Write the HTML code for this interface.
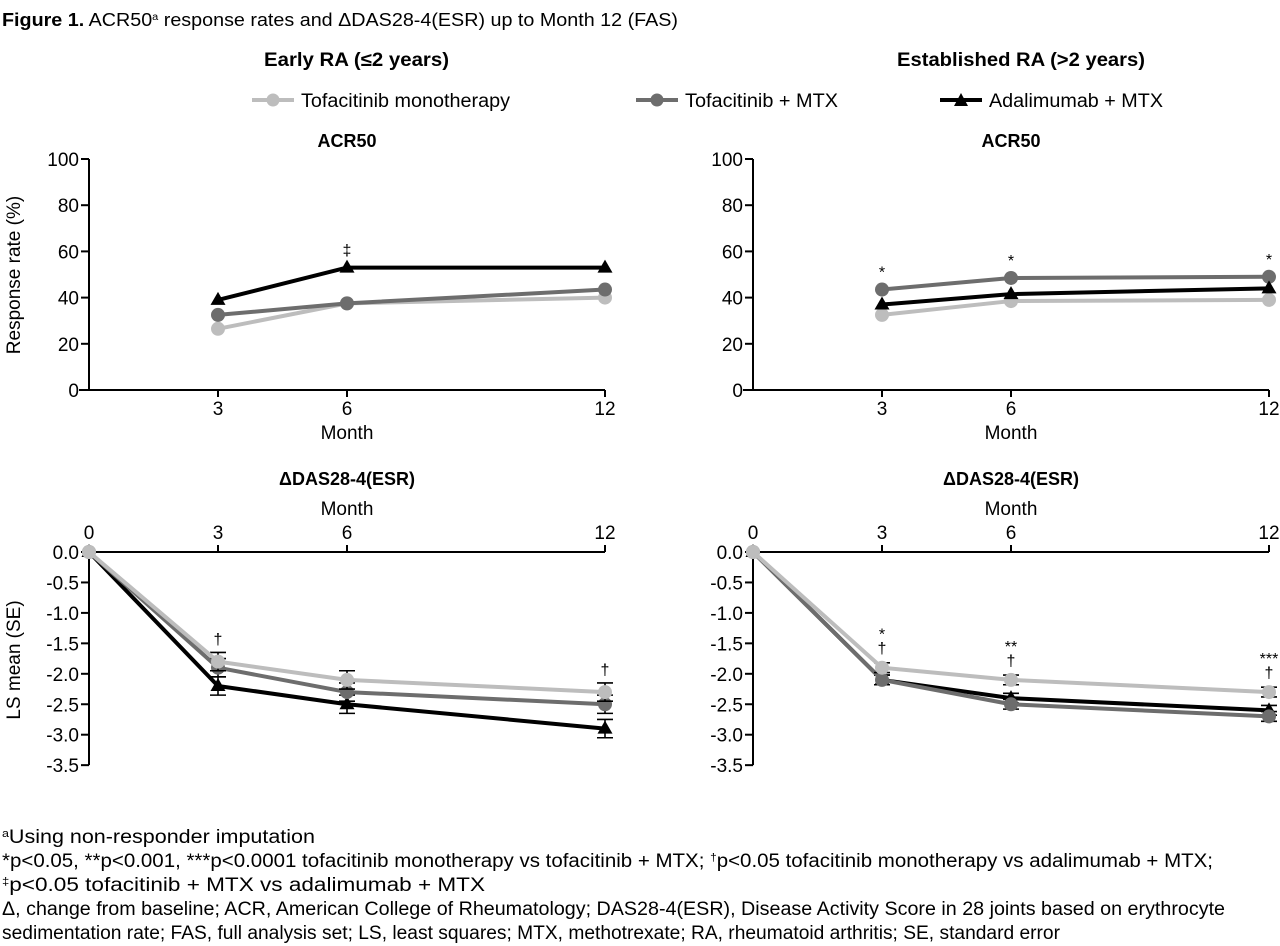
<!DOCTYPE html>
<html><head><meta charset="utf-8"><style>
html,body{margin:0;padding:0;background:#fff;}
svg{display:block;font-family:"Liberation Sans",Arial,sans-serif;}
</style></head><body>
<svg id="fig" width="1280" height="946" viewBox="0 0 1280 946" xmlns="http://www.w3.org/2000/svg">
<text x="2" y="26" font-size="18" textLength="676" lengthAdjust="spacingAndGlyphs"><tspan font-weight="bold">Figure 1.</tspan> ACR50<tspan font-size="10" dy="-6">a</tspan><tspan dy="6"> response rates and ΔDAS28-4(ESR) up to Month 12 (FAS)</tspan></text>
<text x="264" y="66" font-size="19" font-weight="bold" textLength="185" lengthAdjust="spacingAndGlyphs">Early RA (≤2 years)</text>
<text x="897" y="66" font-size="19" font-weight="bold" textLength="248" lengthAdjust="spacingAndGlyphs">Established RA (&gt;2 years)</text>
<g>
 <g><line x1="252" y1="100" x2="294" y2="100" stroke="#bdbdbd" stroke-width="4"/><circle cx="273" cy="100" r="6.5" fill="#bdbdbd"/><text x="301" y="107" font-size="19" textLength="209" lengthAdjust="spacingAndGlyphs">Tofacitinib monotherapy</text></g>
 <g><line x1="636" y1="100" x2="678" y2="100" stroke="#6d6d6d" stroke-width="4"/><circle cx="657" cy="100" r="6.5" fill="#6d6d6d"/><text x="685" y="107" font-size="19" textLength="153" lengthAdjust="spacingAndGlyphs">Tofacitinib + MTX</text></g>
 <g><line x1="940" y1="100" x2="982" y2="100" stroke="#000" stroke-width="4"/><polygon points="961,93 968,106 954,106" fill="#000"/><text x="989" y="107" font-size="19" textLength="174" lengthAdjust="spacingAndGlyphs">Adalimumab + MTX</text></g>
</g>
<g id="charts"></g>
<g font-size="19">
<text x="2" y="843" textLength="313" lengthAdjust="spacingAndGlyphs"><tspan font-size="11" dy="-6">a</tspan><tspan dy="6">Using non-responder imputation</tspan></text>
<text x="2" y="867" textLength="1211" lengthAdjust="spacingAndGlyphs">*p&lt;0.05, **p&lt;0.001, ***p&lt;0.0001 tofacitinib monotherapy vs tofacitinib + MTX; <tspan font-size="11" dy="-6">†</tspan><tspan dy="6">p&lt;0.05 tofacitinib monotherapy vs adalimumab + MTX;</tspan></text>
<text x="2" y="891" textLength="483" lengthAdjust="spacingAndGlyphs"><tspan font-size="11" dy="-6">‡</tspan><tspan dy="6">p&lt;0.05 tofacitinib + MTX vs adalimumab + MTX</tspan></text>
<text x="2" y="915" textLength="1223" lengthAdjust="spacingAndGlyphs">Δ, change from baseline; ACR, American College of Rheumatology; DAS28-4(ESR), Disease Activity Score in 28 joints based on erythrocyte</text>
<text x="2" y="939" textLength="1058" lengthAdjust="spacingAndGlyphs">sedimentation rate; FAS, full analysis set; LS, least squares; MTX, methotrexate; RA, rheumatoid arthritis; SE, standard error</text>
</g>
</svg>
<script>
// ACR50 data (%)
const acrMonths = [3, 6, 12];
const earlyAcrMono = [26.5, 37.5, 40];
const earlyAcrTofaMtx = [32.5, 37.5, 43.5];
const earlyAcrAda = [39, 53, 53];
const estAcrMono = [32.5, 38.5, 39];
const estAcrTofaMtx = [43.5, 48.5, 49];
const estAcrAda = [37, 41.5, 44];
const acrTicks = [0, 20, 40, 60, 80, 100];
// DAS28 data (LS mean change)
const dasMonths = [0, 3, 6, 12];
const earlyDasMono = [0, -1.8, -2.1, -2.3];
const earlyDasTofaMtx = [0, -1.9, -2.3, -2.5];
const earlyDasAda = [0, -2.2, -2.5, -2.9];
const earlyDasSE = [0, 0.15, 0.15, 0.15];
const estDasMono = [0, -1.9, -2.1, -2.3];
const estDasTofaMtx = [0, -2.1, -2.5, -2.7];
const estDasAda = [0, -2.1, -2.4, -2.6];
const estDasSE = [0, 0.08, 0.08, 0.08];
const dasTicks = [0, -0.5, -1, -1.5, -2, -2.5, -3, -3.5];

const NS = 'http://www.w3.org/2000/svg';
const root = document.getElementById('charts');
function mk(tag, attrs, parent, txt) {
  const e = document.createElementNS(NS, tag);
  for (const k in attrs) e.setAttribute(k, attrs[k]);
  if (txt !== undefined) e.textContent = txt;
  (parent || root).appendChild(e);
  return e;
}
const colors = {mono: '#bdbdbd', tm: '#6d6d6d', ada: '#000'};
const FS = 19;

function marker(g, x, y, type, col) {
  if (type === 'tri') {
    const p = mk('polygon', {points: `${x},${y-8} ${x+7.5},${y+5} ${x-7.5},${y+5}`, fill: col}, g);
    
    
  } else {
    const c = mk('circle', {cx: x, cy: y, r: 7, fill: col}, g);
    
    
  }
}
function series(g, name, months, vals, xs, ys, col, type, se) {
  const sg = mk('g', {}, g);
  
  
  if (se) {
    months.forEach((m, i) => {
      if (!se[i]) return;
      const x = xs(m), y1 = ys(vals[i] + se[i]), y2 = ys(vals[i] - se[i]);
      mk('path', {d: `M${x},${y1}V${y2}M${x-8},${y1}H${x+8}M${x-8},${y2}H${x+8}`, stroke: '#000', 'stroke-width': 1.6, fill: 'none'}, sg);
    });
  }
  const pts = months.map((m, i) => xs(m) + ',' + ys(vals[i])).join(' ');
  mk('polyline', {points: pts, fill: 'none', stroke: col, 'stroke-width': 4, 'stroke-linejoin': 'round'}, sg);
  months.forEach((m, i) => marker(sg, xs(m), ys(vals[i]), type, col));
}

function acrChart(name, x0, mono, tm, ada, notes) {
  const g = mk('g', {});
  
  
  const xs = m => x0 + m * 43;
  const ys = v => 390 - v * 2.31;
  const t = mk('text', {x: xs(6), y: 147, 'font-size': 18, 'font-weight': 'bold', 'text-anchor': 'middle'}, g, 'ACR50');
  
  
  mk('line', {x1: x0, y1: ys(100), x2: x0, y2: 390, stroke: '#000', 'stroke-width': 2}, g);
  mk('line', {x1: x0 - 10, y1: 390, x2: xs(12), y2: 390, stroke: '#000', 'stroke-width': 2}, g);
  acrTicks.forEach(v => {
    mk('line', {x1: x0 - 8, y1: ys(v), x2: x0, y2: ys(v), stroke: '#000', 'stroke-width': 2}, g);
    const l = mk('text', {x: x0 - 10, y: ys(v) + 7, 'font-size': FS, 'text-anchor': 'end'}, g, String(v));
    
    
  });
  acrMonths.forEach(m => {
    mk('line', {x1: xs(m), y1: 390, x2: xs(m), y2: 397, stroke: '#000', 'stroke-width': 2}, g);
    const l = mk('text', {x: xs(m), y: 415, 'font-size': FS, 'text-anchor': 'middle'}, g, String(m));
    
    
  });
  const xl = mk('text', {x: xs(6), y: 439, 'font-size': FS, 'text-anchor': 'middle'}, g, 'Month');
  
  
  series(g, 'series-tofa-mono', acrMonths, mono, xs, ys, colors.mono, 'c');
  series(g, 'series-tofa-mtx', acrMonths, tm, xs, ys, colors.tm, 'c');
  series(g, 'series-ada-mtx', acrMonths, ada, xs, ys, colors.ada, 'tri');
  notes.forEach(n => {
    const a = mk('text', {x: xs(n[0]), y: ys(n[1]) - 12, 'font-size': 16, 'text-anchor': 'middle'}, g, n[2]);
    
    
  });
}

function dasChart(name, x0, mono, tm, ada, se, notes) {
  const g = mk('g', {});
  
  
  const xs = m => x0 + m * 43;
  const ys = v => 552 - v * 60.9;
  const t = mk('text', {x: xs(6), y: 485, 'font-size': 18, 'font-weight': 'bold', 'text-anchor': 'middle'}, g, 'ΔDAS28-4(ESR)');
  
  
  const xl = mk('text', {x: xs(6), y: 515, 'font-size': FS, 'text-anchor': 'middle'}, g, 'Month');
  
  
  mk('line', {x1: x0, y1: 552, x2: x0, y2: ys(-3.5), stroke: '#000', 'stroke-width': 2}, g);
  mk('line', {x1: x0, y1: 552, x2: xs(12), y2: 552, stroke: '#000', 'stroke-width': 2}, g);
  dasTicks.forEach(v => {
    mk('line', {x1: x0 - 8, y1: ys(v), x2: x0, y2: ys(v), stroke: '#000', 'stroke-width': 2}, g);
    const l = mk('text', {x: x0 - 10, y: ys(v) + 7, 'font-size': FS, 'text-anchor': 'end'}, g, v.toFixed(1));
    
    
  });
  dasMonths.forEach(m => {
    mk('line', {x1: xs(m), y1: 545, x2: xs(m), y2: 552, stroke: '#000', 'stroke-width': 2}, g);
    const l = mk('text', {x: xs(m), y: 539, 'font-size': FS, 'text-anchor': 'middle'}, g, String(m));
    
    
  });
  series(g, 'series-ada-mtx', dasMonths, ada, xs, ys, colors.ada, 'tri', se);
  series(g, 'series-tofa-mtx', dasMonths, tm, xs, ys, colors.tm, 'c', se);
  series(g, 'series-tofa-mono', dasMonths, mono, xs, ys, colors.mono, 'c', se);
  notes.forEach(n => {
    const a = mk('text', {x: xs(n[0]), y: ys(n[1]) + n[3], 'font-size': 16, 'text-anchor': 'middle'}, g, n[2]);
    
    
  });
}

acrChart('early-acr50-chart', 89, earlyAcrMono, earlyAcrTofaMtx, earlyAcrAda, [[6, 53, '‡']]);
acrChart('established-acr50-chart', 753, estAcrMono, estAcrTofaMtx, estAcrAda, [[3, 43.5, '*'], [6, 48.5, '*'], [12, 49, '*']]);
dasChart('early-das28-chart', 89, earlyDasMono, earlyDasTofaMtx, earlyDasAda, earlyDasSE, [[3, -1.8, '†', -17], [12, -2.3, '†', -17]]);
dasChart('established-das28-chart', 753, estDasMono, estDasTofaMtx, estDasAda, estDasSE, [[3, -1.9, '†', -14], [3, -1.9, '*', -28], [6, -2.1, '†', -14], [6, -2.1, '**', -28], [12, -2.3, '†', -14], [12, -2.3, '***', -28]]);

const yl1 = mk('text', {transform: 'translate(20,275) rotate(-90)', 'font-size': FS, 'text-anchor': 'middle'}, root, 'Response rate (%)');


const yl2 = mk('text', {transform: 'translate(20,660) rotate(-90)', 'font-size': FS, 'text-anchor': 'middle'}, root, 'LS mean (SE)');


</script>
</body></html>
